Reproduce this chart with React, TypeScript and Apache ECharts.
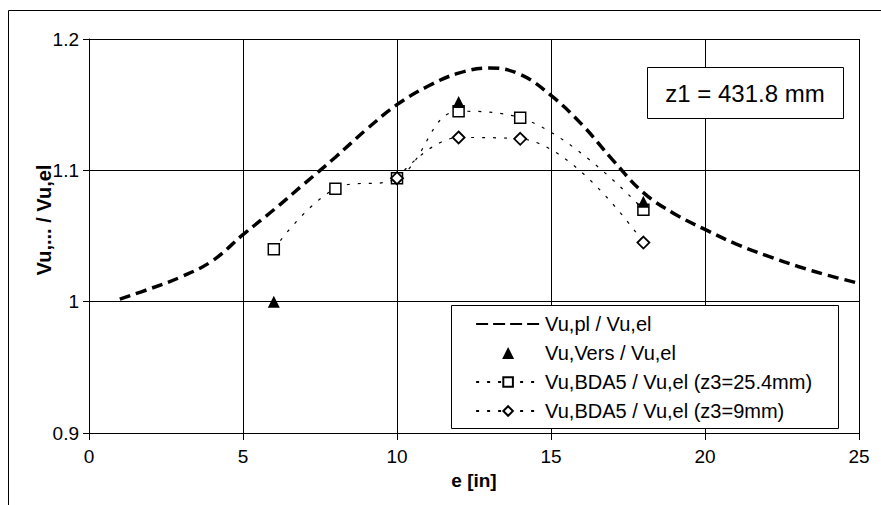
import React, { useEffect, useRef } from "react";
import * as echarts from "echarts";

const FONT = '"Liberation Sans", Arial, sans-serif';

const plX = [1, 2, 3, 4, 5, 6, 7, 8, 9, 10, 11, 12, 13, 14, 15, 16, 17, 18, 19, 20, 21, 22, 23, 24, 25];
const plY = [1.002, 1.01, 1.019, 1.031, 1.051, 1.07, 1.09, 1.11, 1.131, 1.15, 1.164, 1.174, 1.178, 1.173, 1.157, 1.135, 1.108, 1.083, 1.067, 1.055, 1.044, 1.035, 1.027, 1.02, 1.014];

const versX = [6, 12, 18];
const versY = [1.0, 1.152, 1.076];

const bda254X = [6, 8, 10, 12, 14, 18];
const bda254Y = [1.04, 1.086, 1.094, 1.145, 1.14, 1.07];

const bda9X = [10, 12, 14, 18];
const bda9Y = [1.094, 1.125, 1.124, 1.045];

const seriesNames = [
  "Vu,pl / Vu,el",
  "Vu,Vers / Vu,el",
  "Vu,BDA5 / Vu,el (z3=25.4mm)",
  "Vu,BDA5 / Vu,el (z3=9mm)",
];

const xTicks = { min: 0, max: 25, interval: 5 };
const yTicks = { min: 0.9, max: 1.2, interval: 0.1 };
const annotation = "z1 = 431.8 mm";
const xName = "e [in]";
const yName = "Vu,... / Vu,el";

const pairs = (xs: number[], ys: number[]) => xs.map((x, i) => [x, ys[i]]);

export default function App() {
  const ref = useRef<HTMLDivElement>(null);
  useEffect(() => {
    if (!ref.current) return;
    const chart = echarts.init(ref.current, undefined, { renderer: "svg" });
    chart.setOption({
      animation: false,
      backgroundColor: "#fff",
      textStyle: { fontFamily: FONT },
      grid: { left: 89, right: 22, top: 39, bottom: 72 },
      xAxis: {
        type: "value",
        min: xTicks.min,
        max: xTicks.max,
        interval: xTicks.interval,
        name: xName,
        nameLocation: "middle",
        nameGap: 38,
        nameTextStyle: { fontFamily: FONT, fontSize: 19, fontWeight: "bold", color: "#000" },
        axisLine: { show: true, onZero: false, lineStyle: { color: "#000", width: 1 } },
        axisTick: { show: true, inside: false, length: 7, lineStyle: { color: "#000" } },
        axisLabel: { color: "#000", fontSize: 19, fontFamily: FONT, margin: 14 },
        splitLine: { show: true, lineStyle: { color: "#000", width: 1 } },
      },
      yAxis: {
        type: "value",
        min: yTicks.min,
        max: yTicks.max,
        interval: yTicks.interval,
        axisLine: { show: true, lineStyle: { color: "#000", width: 1 } },
        axisTick: { show: true, inside: false, length: 6, lineStyle: { color: "#000" } },
        axisLabel: {
          color: "#000",
          fontSize: 19,
          fontFamily: FONT,
          margin: 10,
          formatter: (v: number) => String(Math.round(v * 10) / 10),
        },
        splitLine: { show: true, lineStyle: { color: "#000", width: 1 } },
      },
      legend: {
        show: true,
        orient: "vertical",
        left: 470,
        top: 309,
        itemWidth: 64,
        itemHeight: 12,
        itemGap: 9,
        z: 6,
        textStyle: { fontFamily: FONT, fontSize: 20, color: "#000" },
        data: [
          {
            name: seriesNames[0],
            itemStyle: { color: "rgba(0,0,0,0)", borderColor: "rgba(0,0,0,0)", opacity: 0 },
            lineStyle: { width: 2.2, type: [12, 5], color: "#000" },
          },
          { name: seriesNames[1], icon: "path://M5,0L10,10L0,10Z", itemStyle: { color: "#000", opacity: 1 } },
          { name: seriesNames[2] },
          { name: seriesNames[3] },
        ],
      },
      graphic: [
        {
          type: "line",
          z: 10,
          shape: { x1: 8.5, y1: 10.5, x2: 881, y2: 10.5 },
          style: { stroke: "#000", lineWidth: 1 },
        },
        {
          type: "line",
          z: 10,
          shape: { x1: 8.5, y1: 10.5, x2: 8.5, y2: 505 },
          style: { stroke: "#000", lineWidth: 1 },
        },
        {
          type: "rect",
          z: 3,
          shape: { x: 451.5, y: 305.5, width: 387, height: 123 },
          style: { fill: "#fff", stroke: "#000", lineWidth: 1 },
        },
        {
          type: "rect",
          z: 3,
          shape: { x: 647.5, y: 67.5, width: 196, height: 51 },
          style: { fill: "#fff", stroke: "#000", lineWidth: 1 },
        },
        {
          type: "text",
          z: 4,
          x: 745,
          y: 93,
          style: {
            text: annotation,
            fontFamily: FONT,
            fontSize: 24,
            fill: "#000",
            align: "center",
            verticalAlign: "middle",
          },
        },
        {
          type: "text",
          z: 4,
          x: 44,
          y: 220,
          rotation: Math.PI / 2,
          style: {
            text: yName,
            fontFamily: FONT,
            fontSize: 20,
            fontWeight: "bold",
            fill: "#000",
            align: "center",
            verticalAlign: "middle",
          },
        },
      ],
      series: [
        {
          name: seriesNames[0],
          type: "line",
          data: pairs(plX, plY),
          smooth: 0.4,
          showSymbol: false,
          symbol: "none",
          z: 2,
          itemStyle: { color: "#000" },
          lineStyle: { color: "#000", width: 3.5, type: [11, 6] },
        },
        {
          name: seriesNames[2],
          type: "line",
          data: pairs(bda254X, bda254Y),
          smooth: 0.4,
          symbol: "rect",
          symbolSize: 11,
          showSymbol: true,
          z: 4,
          itemStyle: { color: "#fff", borderColor: "#000", borderWidth: 1.5 },
          lineStyle: { color: "#000", width: 1.2, type: [3, 8] },
        },
        {
          name: seriesNames[3],
          type: "line",
          data: pairs(bda9X, bda9Y),
          smooth: 0.4,
          symbol: "diamond",
          symbolSize: 12,
          showSymbol: true,
          z: 4,
          itemStyle: { color: "#fff", borderColor: "#000", borderWidth: 1.8 },
          lineStyle: { color: "#000", width: 1.2, type: [3, 8] },
        },
        {
          name: seriesNames[1],
          type: "scatter",
          data: pairs(versX, versY),
          symbol: "triangle",
          symbolSize: 12,
          z: 5,
          itemStyle: { color: "#000", opacity: 1 },
        },
      ],
    });
    return () => chart.dispose();
  }, []);
  return <div ref={ref} style={{ width: 881, height: 505, position: "absolute", left: 0, top: 0 }} />;
}
